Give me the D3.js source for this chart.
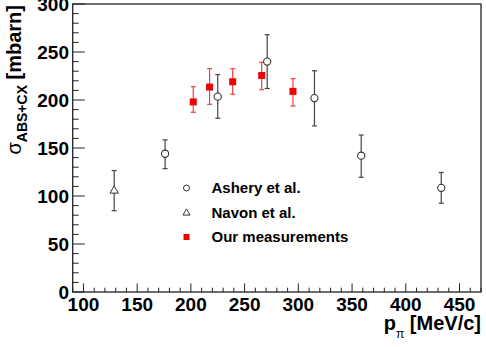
<!DOCTYPE html>
<html>
<head>
<meta charset="utf-8">
<script src="https://cdn.jsdelivr.net/npm/d3@7"></script>
<style>
  body { margin: 0; background: #fff; }
  text { font-family: "Liberation Sans", Arial, sans-serif; font-weight: bold; fill: #000; }
</style>
</head>
<body>
<svg width="486" height="347"></svg>
<script>
const width = 486, height = 347;

// data: momentum, cross section, lower and upper error
const asheryP   = [176, 225, 271, 315, 358.5, 433];
const asheryY   = [144, 203.5, 240, 202, 142, 108.5];
const asheryLo  = [128.5, 181, 212, 173, 119.5, 92.5];
const asheryHi  = [158.5, 226.5, 268, 230.5, 163.5, 124.5];

const navonP  = [128.6];
const navonY  = [105.5];
const navonLo = [84.7];
const navonHi = [126.5];

const oursP  = [202.2, 217.4, 238.9, 265.9, 295];
const oursY  = [198, 213.5, 219, 225.5, 209];
const oursLo = [187.2, 195.5, 206, 210.7, 193.7];
const oursHi = [213.9, 232.6, 232.6, 239.2, 222.2];

const legendLabels = ['Ashery et al.', 'Navon et al.', 'Our measurements'];
const xTickVals = [100, 150, 200, 250, 300, 350, 400, 450];
const yTickVals = [0, 50, 100, 150, 200, 250, 300];

const frame = {left: 72.7, right: 481, top: 4, bottom: 292};

const x = d3.scaleLinear().domain([90, 470]).range([frame.left, frame.right]);
const y = d3.scaleLinear().domain([0, 300]).range([frame.bottom, frame.top]);

const svg = d3.select('svg');

// frame
svg.append('rect')
  .attr('x', frame.left).attr('y', frame.top)
  .attr('width', frame.right - frame.left).attr('height', frame.bottom - frame.top)
  .attr('fill', 'none').attr('stroke', '#222').attr('stroke-width', 1.3);

// x ticks (inside, major every 50, minor every 10)
const xAll = d3.range(90, 471, 10);
svg.append('g').selectAll('line')
  .data(xAll)
  .enter().append('line')
    .attr('x1', d => x(d)).attr('x2', d => x(d))
    .attr('y1', frame.bottom)
    .attr('y2', d => frame.bottom - (d % 50 === 0 ? 8.6 : 4.3))
    .attr('stroke', '#222').attr('stroke-width', 1);

const yAll = d3.range(0, 301, 10);
svg.append('g').selectAll('line')
  .data(yAll)
  .enter().append('line')
    .attr('y1', d => y(d)).attr('y2', d => y(d))
    .attr('x1', frame.left)
    .attr('x2', d => frame.left + (d % 50 === 0 ? 12 : 6))
    .attr('stroke', '#222').attr('stroke-width', 1);

// tick labels
svg.append('g').selectAll('text')
  .data(xTickVals)
  .enter().append('text')
    .attr('x', d => x(d)).attr('y', 311)
    .attr('text-anchor', 'middle')
    .style('font-size', '19px')
    .text(d => d);

svg.append('g').selectAll('text')
  .data(yTickVals)
  .enter().append('text')
    .attr('x', 69).attr('y', d => y(d) + 6.5)
    .attr('text-anchor', 'end')
    .style('font-size', '19px')
    .text(d => d);

// axis titles
const xt = svg.append('text')
  .attr('x', frame.right).attr('y', 330)
  .attr('text-anchor', 'end')
  .style('font-size', '20px');
xt.append('tspan').text('p');
xt.append('tspan').attr('dy', 8).style('font-size', '12px').style('font-weight', 'normal').text('π');
xt.append('tspan').attr('dy', -8).text(' [MeV/c]');

const yt = svg.append('text')
  .attr('transform', 'translate(20.5,5) rotate(-90)')
  .attr('text-anchor', 'end')
  .style('font-size', '20px');
yt.append('tspan').style('font-weight', 'normal').text('σ');
yt.append('tspan').attr('dy', 6).style('font-size', '14px').text('ABS+CX');
yt.append('tspan').attr('dy', -6).text(' [mbarn]');

// error bars helper
function errorBars(px, lo, hi, color) {
  const g = svg.append('g').attr('stroke', color).attr('stroke-width', 1.2);
  g.selectAll('.bar').data(px).enter().append('line')
    .attr('x1', d => x(d)).attr('x2', d => x(d))
    .attr('y1', (d, i) => y(lo[i])).attr('y2', (d, i) => y(hi[i]));
  g.selectAll('.capl').data(px).enter().append('line')
    .attr('x1', d => x(d) - 2.5).attr('x2', d => x(d) + 2.5)
    .attr('y1', (d, i) => y(lo[i])).attr('y2', (d, i) => y(lo[i]));
  g.selectAll('.caph').data(px).enter().append('line')
    .attr('x1', d => x(d) - 2.5).attr('x2', d => x(d) + 2.5)
    .attr('y1', (d, i) => y(hi[i])).attr('y2', (d, i) => y(hi[i]));
}

errorBars(asheryP, asheryLo, asheryHi, '#444');
errorBars(navonP, navonLo, navonHi, '#444');
errorBars(oursP, oursLo, oursHi, '#f04040');

// markers
svg.append('g').selectAll('circle')
  .data(asheryP)
  .enter().append('circle')
    .attr('cx', d => x(d)).attr('cy', (d, i) => y(asheryY[i]))
    .attr('r', 3.6)
    .attr('fill', '#fff').attr('stroke', '#333').attr('stroke-width', 1.1);

const tri = d3.symbol().type(d3.symbolTriangle).size(30);
svg.append('g').selectAll('path')
  .data(navonP)
  .enter().append('path')
    .attr('d', tri)
    .attr('transform', (d, i) => `translate(${x(d)},${y(navonY[i])})`)
    .attr('fill', '#fff').attr('stroke', '#333').attr('stroke-width', 1);

svg.append('g').selectAll('rect')
  .data(oursP)
  .enter().append('rect')
    .attr('x', d => x(d) - 3.5).attr('y', (d, i) => y(oursY[i]) - 3.5)
    .attr('width', 7).attr('height', 7)
    .attr('fill', '#ee0000');

// legend
const legY = [188, 213, 237];
const leg = svg.append('g');
leg.append('circle').attr('cx', 186.5).attr('cy', legY[0]).attr('r', 3)
  .attr('fill', 'none').attr('stroke', '#333').attr('stroke-width', 1);
leg.append('path').attr('d', d3.symbol().type(d3.symbolTriangle).size(22))
  .attr('transform', `translate(186.5,${legY[1]})`)
  .attr('fill', 'none').attr('stroke', '#333').attr('stroke-width', 1);
leg.append('rect').attr('x', 183.5).attr('y', legY[2] - 3).attr('width', 6).attr('height', 6)
  .attr('fill', '#ee0000');
leg.selectAll('text')
  .data(legendLabels)
  .enter().append('text')
    .attr('x', 211.5).attr('y', (d, i) => legY[i] + 5)
    .style('font-size', '15px')
    .text(d => d);
</script>
</body>
</html>
